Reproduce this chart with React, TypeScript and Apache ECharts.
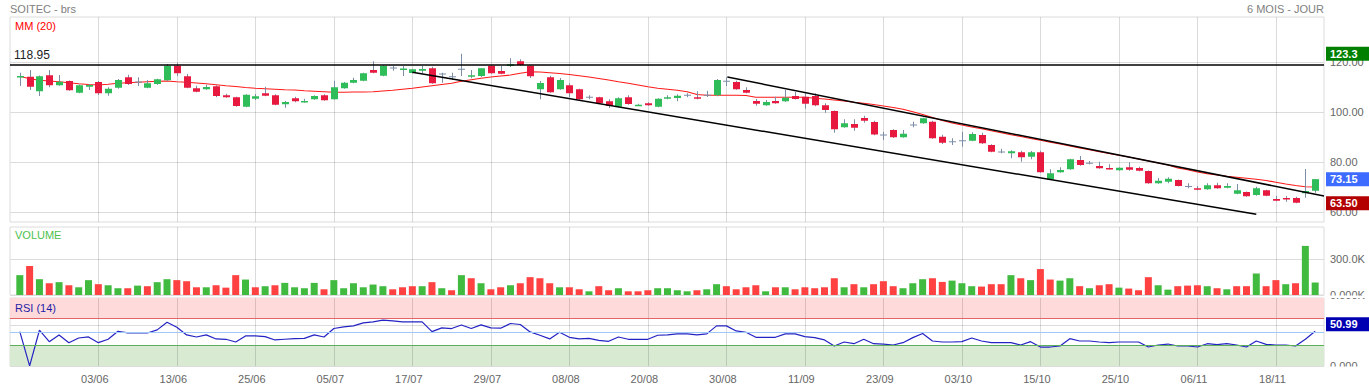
import React, { useEffect, useRef } from "react";
import * as echarts from "echarts";

// ---- data ----
const OPEN = [
  113.9, 114.1, 108.3, 114.7, 110.7, 112.4, 107.7, 110.1, 112.0, 107.5,
  109.7, 113.9, 112.0, 109.7, 111.2, 112.7, 118.5, 114.3, 109.5, 109.1,
  110.3, 106.7, 105.9, 102.1, 105.3, 107.5, 106.7, 103.1, 105.5, 104.0,
  105.1, 106.7, 105.1, 109.5, 111.7, 112.5, 116.8, 114.5, 117.6, 117.2,
  115.6, 116.5, 117.5, 115.2, 114.1, 117.1, 114.1, 114.4, 118.5, 116.4,
  118.4, 120.3, 118.5, 109.1, 113.9, 109.1, 110.7, 109.1, 105.9, 105.9,
  104.3, 102.1, 105.9, 102.6, 103.5, 102.1, 105.3, 105.6, 106.7, 105.9,
  106.7, 106.7, 112.3, 112.0, 108.8, 104.4, 102.7, 104.4, 104.3, 106.4,
  106.1, 106.4, 102.7, 100.4, 93.9, 95.2, 97.6, 96.0, 90.8, 92.8,
  89.9, 94.8, 95.5, 96.1, 90.1, 88.1, 88.5, 88.5, 90.8, 86.8,
  84.0, 83.5, 83.9, 82.1, 83.9, 73.1, 75.9, 77.1, 80.8, 79.5,
  78.4, 77.6, 76.7, 77.9, 77.6, 76.4, 71.5, 72.1, 72.8, 70.2,
  69.5, 69.1, 70.7, 69.7, 67.3, 68.0, 66.8, 68.7, 65.2, 65.6,
  65.6, 67.5, 68.5,
];
const CLOSE = [
  114.4, 110.1, 114.3, 110.7, 112.1, 108.7, 110.7, 110.8, 107.5, 109.3,
  112.8, 111.2, 112.0, 111.5, 113.1, 118.5, 115.5, 109.7, 108.1, 110.0,
  106.4, 105.9, 102.4, 106.9, 106.3, 106.5, 102.9, 104.0, 104.3, 104.4,
  106.4, 104.7, 109.9, 111.7, 112.8, 115.5, 115.7, 118.4, 117.6, 117.4,
  117.1, 117.2, 111.5, 115.2, 114.1, 117.1, 114.7, 117.5, 115.5, 115.3,
  119.1, 118.8, 114.3, 111.6, 107.9, 112.8, 107.5, 105.1, 105.9, 103.5,
  102.4, 105.5, 103.2, 102.9, 102.7, 105.3, 105.9, 106.5, 106.7, 105.3,
  106.7, 112.8, 112.3, 109.1, 107.7, 103.3, 104.0, 103.5, 105.7, 105.2,
  103.3, 102.7, 100.8, 93.1, 95.5, 93.7, 96.5, 91.0, 90.8, 89.9,
  91.3, 94.8, 97.5, 89.5, 87.7, 88.1, 88.5, 91.2, 87.5, 84.1,
  84.0, 84.3, 81.9, 83.9, 75.9, 75.5, 76.8, 81.1, 78.8, 79.5,
  77.5, 77.2, 77.7, 76.9, 76.5, 71.5, 72.5, 73.3, 70.4, 70.2,
  68.9, 70.7, 69.5, 70.4, 68.7, 66.3, 69.5, 66.5, 64.5, 65.1,
  63.7, 68.4, 73.15,
];
const LOW = [
  110.4, 108.8, 106.4, 109.9, 110.5, 108.5, 107.5, 108.8, 106.8, 106.5,
  109.3, 110.8, 110.4, 109.5, 110.9, 112.5, 114.4, 109.5, 107.9, 108.9,
  105.9, 105.7, 102.1, 101.9, 104.8, 106.3, 102.7, 101.7, 103.9, 103.7,
  104.9, 104.5, 104.9, 109.3, 111.5, 112.3, 115.5, 114.3, 116.5, 114.4,
  115.4, 115.5, 111.3, 111.7, 112.8, 114.4, 113.5, 114.0, 115.3, 115.1,
  118.0, 118.5, 113.6, 105.1, 107.7, 108.9, 105.9, 104.9, 105.1, 103.3,
  101.6, 101.9, 102.9, 102.4, 102.5, 101.9, 105.1, 104.3, 105.9, 105.1,
  106.0, 106.3, 110.4, 108.9, 107.5, 102.5, 102.5, 103.3, 104.0, 105.0,
  101.3, 102.3, 99.7, 91.7, 93.7, 92.5, 95.7, 90.7, 88.8, 89.6,
  89.7, 93.9, 95.3, 89.3, 87.2, 86.8, 86.1, 88.3, 87.2, 83.9,
  83.5, 81.5, 80.1, 81.1, 75.7, 72.9, 75.7, 76.9, 78.5, 79.1,
  77.3, 77.0, 76.5, 76.5, 76.3, 71.3, 71.3, 71.5, 70.2, 69.5,
  68.7, 68.9, 69.3, 69.5, 67.1, 66.1, 66.5, 66.3, 64.3, 64.1,
  63.5, 65.7, 67.7,
];
const HIGH = [
  115.7, 116.8, 114.6, 116.8, 114.8, 112.6, 111.0, 111.2, 112.4, 109.9,
  113.2, 114.9, 113.9, 112.8, 113.3, 119.2, 119.5, 115.2, 110.5, 110.9,
  110.7, 107.3, 106.1, 107.1, 107.2, 110.1, 107.1, 104.4, 106.1, 105.3,
  106.7, 107.1, 112.5, 112.0, 113.7, 115.7, 120.3, 118.7, 118.4, 118.4,
  117.3, 118.4, 118.1, 115.7, 115.7, 123.3, 116.8, 117.6, 118.7, 118.4,
  121.5, 121.1, 118.7, 112.4, 114.5, 113.6, 111.5, 109.3, 106.7, 106.1,
  105.1, 105.9, 106.7, 103.3, 103.9, 105.5, 106.7, 107.1, 107.5, 108.3,
  108.5, 113.2, 113.9, 112.5, 109.9, 105.2, 104.8, 106.1, 108.8, 108.0,
  107.5, 107.5, 103.5, 100.6, 97.1, 97.1, 98.5, 96.5, 92.1, 93.1,
  92.8, 96.1, 97.7, 96.5, 90.9, 89.5, 92.1, 91.9, 91.7, 87.1,
  85.3, 84.7, 84.5, 84.4, 84.5, 77.1, 77.9, 81.3, 82.4, 80.4,
  80.1, 79.1, 77.9, 79.9, 78.1, 76.6, 73.6, 73.9, 73.0, 71.5,
  70.4, 71.5, 71.7, 71.5, 71.2, 68.2, 70.1, 68.9, 66.4, 66.4,
  66.1, 77.2, 73.2,
];
const VOLUME_K = [
  167, 243, 133, 99, 108, 82, 65, 125, 91, 82, 57, 57, 79, 74, 108, 133, 125, 116, 65, 65,
  82, 62, 167, 130, 65, 74, 82, 102, 65, 57, 102, 48, 125, 57, 99, 65, 88, 74, 48, 65,
  74, 74, 108, 57, 40, 167, 141, 99, 48, 65, 82, 99, 150, 141, 99, 65, 65, 48, 31, 74,
  40, 57, 31, 31, 40, 57, 57, 40, 31, 40, 48, 91, 74, 48, 65, 82, 31, 65, 65, 48,
  65, 57, 65, 141, 65, 91, 65, 91, 116, 74, 57, 99, 133, 141, 110, 121, 99, 74, 71, 91,
  91, 167, 141, 125, 218, 130, 121, 141, 74, 57, 82, 91, 62, 54, 40, 150, 82, 45, 74, 79,
  82, 74, 57, 48, 74, 74, 181, 74, 125, 91, 99, 413, 105,
];
const MA20 = [
  114.3, 113.3, 112.7, 112.4, 112.1, 111.7, 111.3, 111.0, 110.8, 111.1,
  111.5, 111.7, 111.9, 112.1, 112.3, 112.4, 112.1, 111.9, 111.6, 111.3,
  110.9, 110.5, 110.2, 109.8, 109.5, 109.3, 109.1, 108.9, 108.8, 108.5,
  108.3, 108.1, 107.9, 107.9, 108.0, 108.0, 108.1, 108.4, 108.7, 109.1,
  109.5, 110.0, 110.5, 111.0, 111.5, 112.3, 112.9, 113.5, 114.0, 114.4,
  114.8, 115.5, 116.1, 116.0, 115.7, 115.4, 115.0, 114.5, 114.0, 113.4,
  112.8, 112.1, 111.5, 110.8, 110.1, 109.5, 109.1, 108.7, 108.1, 107.0,
  106.7, 106.7, 106.7, 106.7, 106.6, 105.9, 105.9, 105.9, 105.9, 105.9,
  105.9, 105.5, 105.2, 104.8, 104.4, 103.9, 103.5, 103.0, 102.4, 101.8,
  101.1, 100.1, 99.0, 97.8, 96.6, 95.6, 94.8, 94.0, 93.3, 92.5,
  91.7, 90.9, 90.2, 89.4, 88.7, 87.9, 87.2, 86.4, 85.6, 84.9,
  84.1, 83.4, 82.7, 82.0, 81.2, 80.4, 79.6, 78.8, 77.6, 76.9,
  76.0, 75.3, 74.8, 74.3, 73.9, 73.5, 73.1, 72.6, 71.9, 71.2,
  70.6, 70.1, 70.0,
];
const RSI14 = [
  50.6, 0.2, 52.6, 35.8, 45.7, 34.3, 41.2, 42.7, 34.3, 39.3,
  51.1, 48.6, 48.6, 48.6, 53.1, 64.4, 57.0, 45.7, 42.7, 45.7,
  39.8, 39.3, 35.3, 44.2, 44.2, 43.2, 38.3, 39.3, 40.2, 40.7,
  45.7, 42.7, 55.1, 57.5, 59.0, 63.5, 64.9, 67.4, 66.4, 64.9,
  64.9, 64.9, 50.6, 56.0, 55.1, 60.3, 55.1, 60.5, 56.0, 55.6,
  62.5, 61.0, 50.1, 45.2, 39.8, 49.6, 42.2, 39.8, 40.7, 37.8,
  36.3, 42.7, 39.3, 39.3, 39.3, 45.2, 45.7, 47.2, 47.2, 45.7,
  47.2, 59.0, 59.0, 51.6, 49.6, 42.2, 42.2, 42.2, 47.2, 47.2,
  43.2, 41.7, 38.3, 29.4, 35.3, 32.8, 39.3, 32.8, 32.3, 30.9,
  34.3, 41.7, 47.7, 36.8, 35.3, 35.3, 35.8, 41.2, 36.8, 34.3,
  34.3, 34.3, 30.9, 35.8, 27.9, 27.9, 29.4, 40.2, 36.8, 36.8,
  35.3, 34.3, 35.3, 35.3, 35.3, 27.9, 30.9, 32.3, 29.4, 29.4,
  27.9, 32.8, 31.4, 32.8, 30.9, 27.9, 36.8, 31.9, 30.9, 30.9,
  29.4, 39.3, 50.99,
];
const TICK_LABELS = [
  "03/06", "13/06", "25/06", "05/07", "17/07", "29/07", "08/08", "20/08",
  "30/08", "11/09", "23/09", "03/10", "15/10", "25/10", "06/11", "18/11",
];
const TICK_STEP = 8; // trading days between labelled dates
const PRICE_TICKS = [60, 80, 100, 120];
const VOLUME_TICKS = [0, 300];
const RSI_TICKS = [0, 60];
const REF_LEVEL = 118.95;
const MAX_HIGH = 123.3;
const MIN_LOW = 63.5;
const LAST_CLOSE = 73.15;
const LAST_RSI = 50.99;
const TREND_LOWER = [[40, 115.9], [126, 59.1]];
const TREND_UPPER = [[72.1, 114.0], [132.9, 66.4]];
const RSI_HIGH = 70;
const RSI_MID = 50;
const RSI_LOW = 30;

// ---- styles ----
const FONT = "'Liberation Sans', Arial, Helvetica, sans-serif";
const UP = "#2ebd59";
const DOWN = "#e8193f";
const WICK = "#7c8ea6";
const VOL_UP = "#40bb40";
const VOL_DOWN = "#ff4141";
const GRID_LINE = "#dcdcdc";
const CLEAR = "rgba(0,0,0,0)";

export default function App() {
  const ref = useRef<HTMLDivElement>(null);
  useEffect(() => {
    if (!ref.current) return;
    const chart = echarts.init(ref.current, undefined, { renderer: "svg" });
    const N = CLOSE.length;
    const idx = Array.from({ length: N }, (_, i) => i);
    const tickVals = TICK_LABELS.map((_, k) => (k + 1) * TICK_STEP);
    const xMin = -1;
    const xMax = 132.9;

    const grid = (top: number, height: number) => ({
      left: 10, right: 45, top, height,
      show: true, borderColor: GRID_LINE, borderWidth: 1, backgroundColor: "transparent",
    });
    const xAxis = (gi: number, showLabel: boolean) => ({
      type: "value", gridIndex: gi, min: xMin, max: xMax, z: gi === 2 ? 3 : 0,
      axisLine: { show: false },
      axisTick: { show: false, customValues: tickVals },
      splitLine: { show: true, lineStyle: { color: "rgba(0,0,0,0.14)", width: 1 } },
      axisLabel: {
        show: showLabel, customValues: tickVals, color: "#666", fontSize: 11, fontFamily: FONT, margin: 7,
        padding: [0, 7, 0, 0],
        formatter: (v: number) => TICK_LABELS[Math.round(v / TICK_STEP) - 1] || "",
      },
    });
    const yAxis = (gi: number, min: number, max: number, ticks: number[], fmt: (v: number) => string) => ({
      type: "value", gridIndex: gi, position: "right", min, max,
      axisLine: { show: false },
      axisTick: { show: false, customValues: ticks },
      splitLine: { show: true, lineStyle: { color: GRID_LINE, width: 1 } },
      axisLabel: { customValues: ticks, color: "#666", fontSize: 11, fontFamily: FONT, margin: 6, formatter: fmt },
    });

    const boxLabel = (value: number, text: string, bg: string, offsetY = 0) => ({
      yAxis: value,
      lineStyle: { color: CLEAR, width: 1, type: "solid" },
      label: {
        show: true, position: "end", formatter: text, color: "#fff", backgroundColor: bg,
        padding: [2, 22, 1, 4], fontSize: 11, fontWeight: "bold", fontFamily: FONT, distance: 2,
        offset: [0, offsetY],
      },
    });

    const option: any = {
      animation: false,
      textStyle: { fontFamily: FONT },
      grid: [grid(17, 205), grid(227, 68), grid(298, 68)],
      xAxis: [xAxis(0, false), xAxis(1, false), xAxis(2, true)],
      yAxis: [
        yAxis(0, 56, 138, PRICE_TICKS, (v) => v.toFixed(2)),
        yAxis(1, 0, 572, VOLUME_TICKS, (v) => v.toPrecision(4) + "K"),
        yAxis(2, 0, 100, RSI_TICKS, (v) => v.toPrecision(4)),
      ],
      graphic: [
        { type: "text", x: 10, y: 9, style: { text: "SOITEC - brs", fill: "#808080", fontSize: 11, fontFamily: FONT, verticalAlign: "middle", textVerticalAlign: "middle" } },
        { type: "text", x: 1324, y: 9, style: { text: "6 MOIS - JOUR", fill: "#808080", fontSize: 11, fontFamily: FONT, align: "right", textAlign: "right", verticalAlign: "middle", textVerticalAlign: "middle" } },
        { type: "text", x: 15, y: 25.5, z: 50, style: { text: "MM (20)", fill: "#ff0000", fontSize: 11, fontFamily: FONT, verticalAlign: "middle", textVerticalAlign: "middle" } },
        { type: "text", x: 15, y: 235, z: 50, style: { text: "VOLUME", fill: "#4cc24c", fontSize: 11, fontFamily: FONT, verticalAlign: "middle", textVerticalAlign: "middle" } },
        { type: "text", x: 15, y: 307.5, z: 50, style: { text: "RSI (14)", fill: "#1e1ea8", fontSize: 11, fontFamily: FONT, verticalAlign: "middle", textVerticalAlign: "middle" } },
        { type: "rect", z: 100, shape: { x: 1325, y: 295.5, width: 44, height: 2.5 }, style: { fill: "#fff" } },
        { type: "rect", z: 100, shape: { x: 1325, y: 366.5, width: 44, height: 8 }, style: { fill: "#fff" } },
      ],
      series: [
        {
          type: "custom",
          xAxisIndex: 0, yAxisIndex: 0,
          data: idx.map((i) => [i, OPEN[i], CLOSE[i], LOW[i], HIGH[i]]),
          encode: { x: 0, y: [1, 2, 3, 4] },
          renderItem: (_p: any, api: any) => {
            const x = api.value(0), o = api.value(1), c = api.value(2), l = api.value(3), h = api.value(4);
            const pO = api.coord([x, o]);
            const pC = api.coord([x, c]);
            const pL = api.coord([x, l]);
            const pH = api.coord([x, h]);
            const w = 7;
            const cx = Math.round(pO[0]) + 0.5;
            const children: any[] = [
              { type: "line", shape: { x1: cx, y1: pH[1], x2: cx, y2: pL[1] }, style: { stroke: WICK, lineWidth: 1 } },
            ];
            if (o === c) {
              children.push({ type: "line", shape: { x1: cx - w / 2, y1: pO[1], x2: cx + w / 2, y2: pO[1] }, style: { stroke: WICK, lineWidth: 1 } });
            } else {
              const top = Math.min(pO[1], pC[1]);
              const hh = Math.max(1.5, Math.abs(pO[1] - pC[1]));
              children.push({ type: "rect", shape: { x: cx - w / 2, y: top, width: w, height: hh }, style: { fill: c > o ? UP : DOWN } });
            }
            return { type: "group", children };
          },
          z: 3,
        },
        {
          type: "line",
          xAxisIndex: 0, yAxisIndex: 0,
          data: idx.map((i) => [i, MA20[i]]),
          symbol: "none",
          lineStyle: { color: "#ff1a1a", width: 1.2 },
          itemStyle: { color: "#ff1a1a" },
          z: 2,
          markLine: {
            silent: true, symbol: ["none", "none"], animation: false,
            data: [
              {
                yAxis: REF_LEVEL,
                lineStyle: { color: "#000", width: 1.5, type: "solid" },
                label: { show: true, position: "insideStartTop", formatter: REF_LEVEL.toFixed(2), color: "#222", fontSize: 12, fontFamily: FONT, distance: 4 },
              },
              [
                { coord: TREND_LOWER[0], lineStyle: { color: "#000", width: 1.5, type: "solid" }, label: { show: false } },
                { coord: TREND_LOWER[1] },
              ],
              [
                { coord: TREND_UPPER[0], lineStyle: { color: "#000", width: 1.5, type: "solid" }, label: { show: false } },
                { coord: TREND_UPPER[1] },
              ],
            ],
          },
        },
        {
          // invisible carrier for the right-hand value boxes of the price panel
          type: "line",
          xAxisIndex: 0, yAxisIndex: 0,
          data: [],
          symbol: "none",
          z: 6,
          markLine: {
            silent: true, symbol: ["none", "none"], animation: false,
            data: [
              boxLabel(MAX_HIGH, MAX_HIGH.toFixed(1), "#008000"),
              boxLabel(LAST_CLOSE, LAST_CLOSE.toFixed(2), "#3d6bff"),
              boxLabel(MIN_LOW, MIN_LOW.toFixed(2), "#b30000"),
            ],
          },
        },
        {
          type: "bar",
          xAxisIndex: 1, yAxisIndex: 1,
          barWidth: 7,
          data: idx.map((i) => ({
            value: [i, VOLUME_K[i]],
            itemStyle: { color: i === 0 || CLOSE[i] >= CLOSE[i - 1] ? VOL_UP : VOL_DOWN },
          })),
        },
        {
          type: "line",
          xAxisIndex: 2, yAxisIndex: 2,
          data: idx.map((i) => [i, RSI14[i]]),
          symbol: "none",
          lineStyle: { color: "#2424c4", width: 1.2 },
          itemStyle: { color: "#2424c4" },
          z: 4,
          markArea: {
            silent: true,
            data: [
              [{ yAxis: RSI_HIGH, itemStyle: { color: "#ffdada" } }, { yAxis: 100 }],
              [{ yAxis: 0, itemStyle: { color: "#d9ead3" } }, { yAxis: RSI_LOW }],
            ],
          },
          markLine: {
            silent: true, symbol: ["none", "none"],
            data: [
              { yAxis: RSI_HIGH, lineStyle: { color: "#e06666", width: 1.2, type: "solid" }, label: { show: false } },
              { yAxis: RSI_MID, lineStyle: { color: "#9fc8f8", width: 1.2, type: "solid" }, label: { show: false } },
              { yAxis: RSI_LOW, lineStyle: { color: "#5cad5c", width: 1.2, type: "solid" }, label: { show: false } },
              boxLabel(LAST_RSI, LAST_RSI.toFixed(2), "#0000b3", -7),
            ],
          },
        },
      ],
    };
    chart.setOption(option);
    return () => chart.dispose();
  }, []);
  return (
    <div
      ref={ref}
      style={{ position: "fixed", left: 0, top: 0, width: 1369, height: 387, background: "#fff" }}
    />
  );
}
